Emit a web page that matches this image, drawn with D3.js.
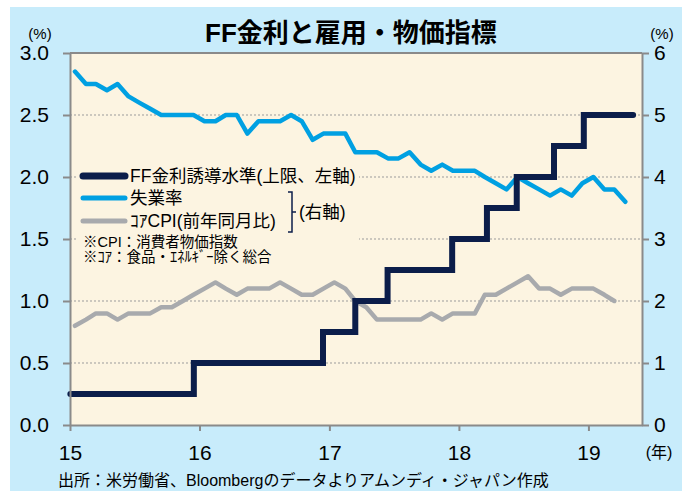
<!DOCTYPE html>
<html>
<head>
<meta charset="utf-8">
<script src="https://cdn.jsdelivr.net/npm/d3@7"></script>
<style>
	body { margin: 0; background: #fff; }
	svg text { font-family: "Liberation Sans", "Noto Sans CJK JP", sans-serif; fill: #000; }
</style>
</head>
<body>
<script>
// monthly values, Jan 2015 onward
const unemployment = [
	5.7, 5.5, 5.5, 5.4, 5.5, 5.3, 5.2, 5.1, 5.0, 5.0, 5.0, 5.0,
	4.9, 4.9, 5.0, 5.0, 4.7, 4.9, 4.9, 4.9, 5.0, 4.9, 4.6, 4.7,
	4.7, 4.7, 4.4, 4.4, 4.4, 4.3, 4.3, 4.4, 4.2, 4.1, 4.2, 4.1,
	4.1, 4.1, 4.0, 3.9, 3.8, 4.0, 3.9, 3.8, 3.7, 3.8, 3.7, 3.9,
	4.0, 3.8, 3.8, 3.6,
];
const coreCpi = [
	1.6, 1.7, 1.8, 1.8, 1.7, 1.8, 1.8, 1.8, 1.9, 1.9, 2.0, 2.1,
	2.2, 2.3, 2.2, 2.1, 2.2, 2.2, 2.2, 2.3, 2.2, 2.1, 2.1, 2.2,
	2.3, 2.2, 2.0, 1.9, 1.7, 1.7, 1.7, 1.7, 1.7, 1.8, 1.7, 1.8,
	1.8, 1.8, 2.1, 2.1, 2.2, 2.3, 2.4, 2.2, 2.2, 2.1, 2.2, 2.2,
	2.2, 2.1, 2.0,
];
// FF rate upper bound: change dates and levels
const ffDates = [
	'2015-01-02', '2015-12-16', '2016-12-14', '2017-03-15', '2017-06-14', '2017-12-13',
	'2018-03-21', '2018-06-13', '2018-09-26', '2018-12-19', '2019-05-07',
];
const ffRates = [0.25, 0.5, 0.75, 1.0, 1.25, 1.5, 1.75, 2.0, 2.25, 2.5, 2.5];

const leftTicks = [0, 0.5, 1.0, 1.5, 2.0, 2.5, 3.0];
const rightTicks = [0, 1, 2, 3, 4, 5, 6];
const yearTicks = ['2015-01-01', '2016-01-01', '2017-01-01', '2018-01-01', '2019-01-01'];
const yearLabels = ['15', '16', '17', '18', '19'];
const legendNames = ['FF金利誘導水準(上限、左軸)', '失業率', 'ｺｱCPI(前年同月比)'];
const noteLines = ['※CPI：消費者物価指数', '※ｺｱ：食品・ｴﾈﾙｷﾞｰ除く総合'];

const colors = { ff: '#0b1d4a', unemp: '#00a0e2', cpi: '#a8aaad', axis: '#8a8a8a' };

const margin = { top: 53, right: 40, bottom: 66, left: 70 };
const width = 572;
const height = 372;

const svg = d3.select('body').append('svg')
	.attr('width', 682)
	.attr('height', 491);

svg.append('rect')
	.attr('x', 10).attr('y', 7)
	.attr('width', 672).attr('height', 484)
	.style('fill', '#c8ecfb');

const chart = svg.append('g')
	.attr('transform', `translate(${margin.left}, ${margin.top})`);

const parse = d3.timeParse('%Y-%m-%d');
const x = d3.scaleTime()
	.domain([parse('2015-01-01'), parse('2019-06-01')])
	.range([0, width]);
const yL = d3.scaleLinear().domain([0, 3]).range([height, 0]);
const yR = d3.scaleLinear().domain([0, 6]).range([height, 0]);

chart.append('rect')
	.attr('width', width)
	.attr('height', height)
	.style('fill', '#fcf4e1');

// dotted grid
chart.selectAll('.grid')
	.data(leftTicks.filter(d => d > 0 && d < 3))
	.enter().append('line')
		.attr('x1', 0)
		.attr('x2', width)
		.attr('y1', d => yL(d))
		.attr('y2', d => yL(d))
		.style('stroke', '#9b9b9b')
		.style('stroke-width', 1)
		.style('stroke-dasharray', '2,2');

// legend background hides grid
chart.append('rect')
	.attr('x', 8).attr('y', 108)
	.attr('width', 281).attr('height', 106)
	.style('fill', '#fcf4e1');

const monthDate = i => new Date(2015, i, 15);

const lineR = d3.line()
	.x((d, i) => x(monthDate(i)))
	.y(d => yR(d));

chart.append('path')
	.datum(coreCpi)
	.attr('d', lineR)
	.style('fill', 'none')
	.style('stroke', colors.cpi)
	.style('stroke-width', 4.5)
	.style('stroke-linejoin', 'round')
	.style('stroke-linecap', 'round');

chart.append('path')
	.datum(unemployment)
	.attr('d', lineR)
	.style('fill', 'none')
	.style('stroke', colors.unemp)
	.style('stroke-width', 4.5)
	.style('stroke-linejoin', 'round')
	.style('stroke-linecap', 'round');

const ffLine = d3.line()
	.curve(d3.curveStepAfter)
	.x((d, i) => x(parse(ffDates[i])))
	.y(d => yL(d));

chart.append('path')
	.datum(ffRates)
	.attr('d', ffLine)
	.style('fill', 'none')
	.style('stroke', colors.ff)
	.style('stroke-width', 6)
	.style('stroke-linejoin', 'miter')
	.style('stroke-linecap', 'round');

// axes
const xAxis = d3.axisBottom(x)
	.tickValues(yearTicks.map(parse))
	.tickFormat((d, i) => yearLabels[i])
	.tickSize(6)
	.tickSizeOuter(0)
	.tickPadding(14);
const yAxisL = d3.axisLeft(yL)
	.tickValues(leftTicks)
	.tickFormat(d3.format('.1f'))
	.tickSize(7)
	.tickSizeOuter(0)
	.tickPadding(14);
const yAxisR = d3.axisRight(yR)
	.tickValues(rightTicks)
	.tickFormat(d3.format('d'))
	.tickSize(7)
	.tickSizeOuter(0)
	.tickPadding(5);

const gx = chart.append('g')
	.attr('transform', `translate(0, ${height})`)
	.call(xAxis);
const gl = chart.append('g').call(yAxisL);
const gr = chart.append('g')
	.attr('transform', `translate(${width}, 0)`)
	.call(yAxisR);

[gx, gl, gr].forEach((g) => {
	g.select('.domain').style('stroke', colors.axis).style('stroke-width', 2);
	g.selectAll('.tick line').style('stroke', colors.axis).style('stroke-width', 2);
	g.selectAll('.tick text').style('font-size', '21px').style('fill', '#000');
});

chart.append('line')
	.attr('x1', 0).attr('x2', width)
	.attr('y1', 0).attr('y2', 0)
	.style('stroke', colors.axis)
	.style('stroke-width', 2);

// legend
const legendY = [123, 145, 168];
const legendStyles = [
	{ c: colors.ff, w: 7 },
	{ c: colors.unemp, w: 5 },
	{ c: colors.cpi, w: 5 },
];
const legend = chart.append('g');
legend.selectAll('line')
	.data(legendNames)
	.enter().append('line')
		.attr('x1', 13).attr('x2', 55)
		.attr('y1', (d, i) => legendY[i])
		.attr('y2', (d, i) => legendY[i])
		.style('stroke', (d, i) => legendStyles[i].c)
		.style('stroke-width', (d, i) => legendStyles[i].w)
		.style('stroke-linecap', 'round');
legend.selectAll('text')
	.data(legendNames)
	.enter().append('text')
		.attr('x', 60)
		.attr('y', (d, i) => legendY[i])
		.attr('dy', '.36em')
		.style('font-size', '17.5px')
		.text(d => d);

legend.append('path')
	.attr('d', 'M218,139 H222 V179 H218 M222,159 H226')
	.style('fill', 'none')
	.style('stroke', colors.ff)
	.style('stroke-width', 1.5);
legend.append('text')
	.attr('x', 229)
	.attr('y', 159)
	.attr('dy', '.36em')
	.style('font-size', '17.5px')
	.text('(右軸)');

legend.selectAll('.note')
	.data(noteLines)
	.enter().append('text')
		.attr('class', 'note')
		.attr('x', 13)
		.attr('y', (d, i) => 194 + i * 15)
		.style('font-size', '14.5px')
		.text(d => d);

// titles and units
svg.append('text')
	.attr('x', 351).attr('y', 42)
	.attr('text-anchor', 'middle')
	.style('font-size', '26px')
	.style('font-weight', 'bold')
	.text('FF金利と雇用・物価指標');
svg.append('text')
	.attr('x', 40).attr('y', 39)
	.attr('text-anchor', 'middle')
	.style('font-size', '15px')
	.text('(%)');
svg.append('text')
	.attr('x', 662).attr('y', 39)
	.attr('text-anchor', 'middle')
	.style('font-size', '15px')
	.text('(%)');
svg.append('text')
	.attr('x', 659).attr('y', 458)
	.attr('text-anchor', 'middle')
	.style('font-size', '16px')
	.text('(年)');
svg.append('text')
	.attr('x', 58).attr('y', 486)
	.style('font-size', '16px')
	.text('出所：米労働省、Bloombergのデータよりアムンディ・ジャパン作成');
</script>
</body>
</html>
